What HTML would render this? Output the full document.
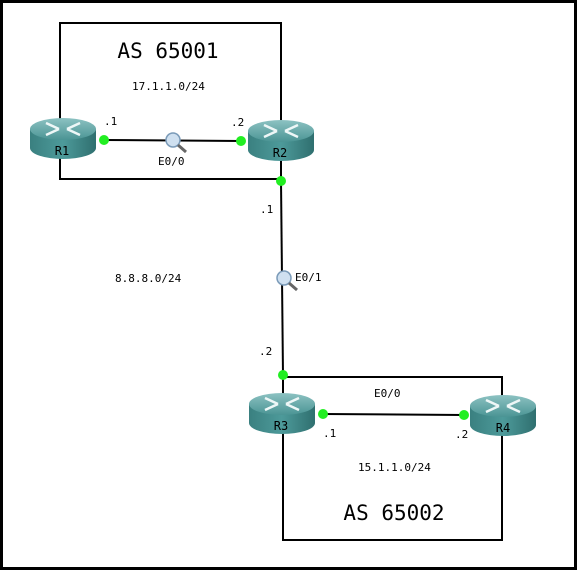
<!DOCTYPE html>
<html><head><style>
body{margin:0;background:#fff}
svg{display:block}
text{font-family:"DejaVu Sans Mono","Liberation Mono",monospace}
</style></head><body>
<svg width="577" height="570" viewBox="0 0 577 570">
<defs>
<linearGradient id="rt" x1="0" y1="0" x2="0" y2="1"><stop offset="0" stop-color="#8cc2c2"/><stop offset="1" stop-color="#4a9494"/></linearGradient>
<linearGradient id="rb" x1="0" y1="0" x2="1" y2="0"><stop offset="0" stop-color="#3a8080"/><stop offset="0.5" stop-color="#4d9a9a"/><stop offset="1" stop-color="#2f6f6f"/></linearGradient>
<g id="router">
<path d="M-33,-9 L-33,10 A33,11 0 0 0 33,10 L33,-9 Z" fill="url(#rb)"/>
<ellipse cx="0" cy="-9" rx="33" ry="11" fill="url(#rt)"/>
<g stroke="#eef7f7" stroke-width="2.5" fill="none">
<path d="M-17,-15 L-4,-9 M17,-3 L4,-9 M-17,-3 L-4,-9 M17,-15 L4,-9"/>
</g>
</g>
</defs>
<rect x="1.5" y="1.5" width="574" height="567" fill="none" stroke="#000" stroke-width="3"/>
<rect x="60" y="23" width="221" height="156" fill="none" stroke="#000" stroke-width="2"/>
<rect x="283" y="377" width="219" height="163" fill="none" stroke="#000" stroke-width="2"/>
<line x1="104" y1="140" x2="241" y2="141" stroke="#000" stroke-width="2"/>
<line x1="281" y1="181" x2="283" y2="375" stroke="#000" stroke-width="2"/>
<line x1="323" y1="414" x2="464" y2="415" stroke="#000" stroke-width="2"/>
<use href="#router" x="63" y="138"/>
<use href="#router" x="281" y="140"/>
<use href="#router" x="282" y="413"/>
<use href="#router" x="503" y="415"/>
<g font-size="12" text-anchor="middle" fill="#000">
<text x="62" y="155">R1</text><text x="280" y="157">R2</text>
<text x="281" y="430">R3</text><text x="503" y="432">R4</text>
</g>
<g fill="#22ee22"><circle cx="104" cy="140" r="5"/><circle cx="241" cy="141" r="5"/><circle cx="281" cy="181" r="5"/><circle cx="283" cy="375" r="5"/><circle cx="323" cy="414" r="5"/><circle cx="464" cy="415" r="5"/></g>
<g><circle cx="173" cy="140" r="7" fill="#cfe0f0" stroke="#7a9ab8" stroke-width="1.5"/><line x1="178" y1="145" x2="186" y2="152" stroke="#666" stroke-width="3"/></g>
<g><circle cx="284" cy="278" r="7" fill="#cfe0f0" stroke="#7a9ab8" stroke-width="1.5"/><line x1="289" y1="283" x2="297" y2="290" stroke="#666" stroke-width="3"/></g>
<text x="168" y="58" font-size="21" text-anchor="middle">AS 65001</text>
<text x="394" y="520" font-size="21" text-anchor="middle">AS 65002</text>
<g font-size="11" fill="#000">
<text x="132" y="90">17.1.1.0/24</text>
<text x="104" y="125">.1</text><text x="231" y="126">.2</text>
<text x="158" y="165">E0/0</text>
<text x="260" y="213">.1</text>
<text x="295" y="281">E0/1</text>
<text x="115" y="282">8.8.8.0/24</text>
<text x="259" y="355">.2</text>
<text x="374" y="397">E0/0</text>
<text x="323" y="437">.1</text><text x="455" y="438">.2</text>
<text x="358" y="471">15.1.1.0/24</text>
</g>
</svg>
</body></html>
